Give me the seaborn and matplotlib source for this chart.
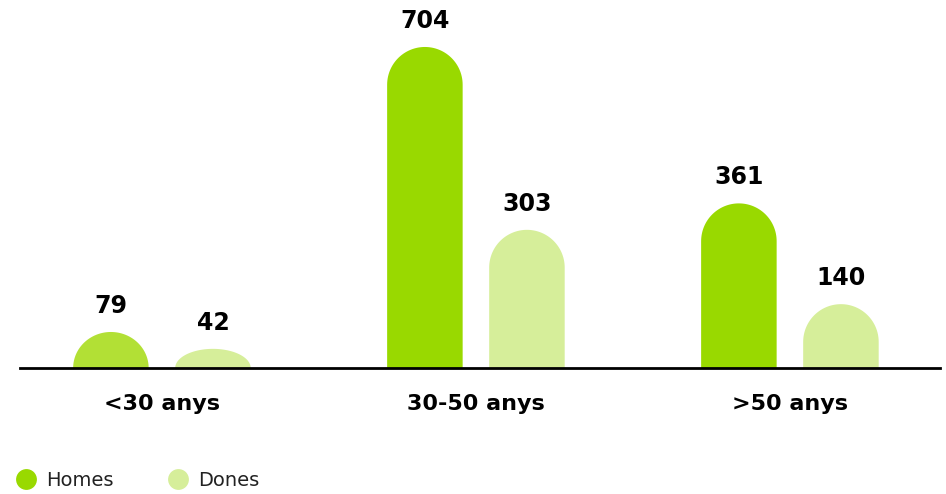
import numpy as np
import pandas as pd
import matplotlib.pyplot as plt
import seaborn as sns
from matplotlib.path import Path
from matplotlib.patches import PathPatch
from matplotlib.lines import Line2D

# data
categories = ["<30 anys", "30-50 anys", ">50 anys"]
series = ["Homes", "Dones"]
homes = [79, 704, 361]
dones = [42, 303, 140]

COLORS = {"Homes": "#99D900", "Dones": "#D6EE9A"}
FIRST_BAR_COLOR = "#B2E035"  # the <30 bar for Homes is drawn in a lighter green

sns.set_theme(style="white")
plt.rcParams["font.family"] = ["DejaVu Sans"]

df = pd.DataFrame({
    "Edat": categories * 2,
    "Sexe": ["Homes"] * 3 + ["Dones"] * 3,
    "Valor": homes + dones,
})

fig = plt.figure(figsize=(9.46, 4.94), dpi=100)
ax = fig.add_axes([20 / 946, 126 / 494, 920 / 946, 368 / 494])

sns.barplot(data=df, x="Edat", y="Valor", hue="Sexe", order=categories,
            hue_order=series, palette=COLORS, saturation=1, width=0.65,
            gap=0.26, legend=False, ax=ax)

ax.set_xlim(-0.452, 2.478)
ax.set_ylim(0, 807)
for s in ["left", "right", "top"]:
    ax.spines[s].set_visible(False)
ax.spines["bottom"].set_linewidth(2)
ax.spines["bottom"].set_color("black")
ax.set_yticks([])
ax.set_xlabel("")
ax.set_ylabel("")
ax.tick_params(axis="x", length=0, pad=19)
for lbl in ax.get_xticklabels():
    lbl.set_fontsize(16)
    lbl.set_fontweight("bold")
    lbl.set_color("black")

# replace the square bars with rounded-top ones
to_data = ax.transData.inverted()
bars = [p for p in ax.patches if p.get_height() > 0]
for i, p in enumerate(bars):
    x0, w, h = p.get_x(), p.get_width(), p.get_height()
    (px0, py0), (px1, py1) = ax.transData.transform([(x0, 0), (x0 + w, h)])
    r = (px1 - px0) / 2
    cap = min(r, py1 - py0)
    cx = (px0 + px1) / 2
    t = np.linspace(0, np.pi, 60)
    arc = np.column_stack([cx + r * np.cos(t), py1 - cap + cap * np.sin(t)])
    pts = np.vstack([[px1, py0], [px1, py1 - cap], arc, [px0, py0], [px1, py0]])
    verts = to_data.transform(pts)
    color = p.get_facecolor()
    if i == 0:
        color = FIRST_BAR_COLOR
    ax.add_patch(PathPatch(Path(verts, closed=True), facecolor=color,
                           edgecolor="none", zorder=2))
    p.set_visible(False)
    ax.annotate(f"{int(round(h))}", (x0 + w / 2, h), xytext=(0, 10),
                textcoords="offset points", ha="center", va="bottom",
                fontsize=17, fontweight="bold", color="black")

handles = [Line2D([], [], marker="o", linestyle="", markersize=15,
                  markerfacecolor=COLORS[s], markeredgecolor="none", label=s)
           for s in series]
fig.legend(handles=handles, loc="lower left", bbox_to_anchor=(-0.006, -0.027),
           ncol=2, frameon=False, fontsize=14, handletextpad=0.25,
           handlelength=1.5, columnspacing=2.6, labelcolor="#222222")

fig.savefig("out.png", dpi=100)
